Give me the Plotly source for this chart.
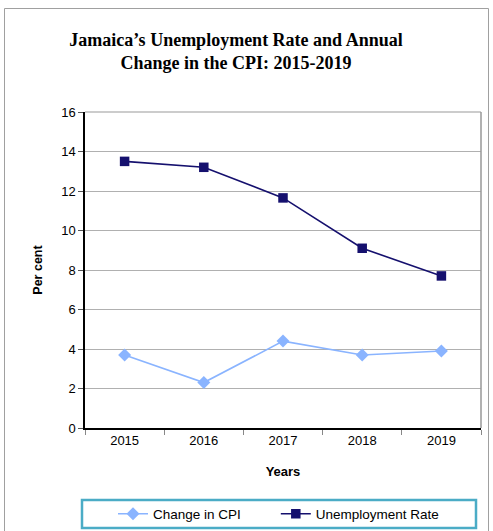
import plotly.graph_objects as go

years = ["2015", "2016", "2017", "2018", "2019"]
cpi_change = [3.7, 2.3, 4.4, 3.7, 3.9]
unemployment = [13.5, 13.2, 11.65, 9.1, 7.7]
y_ticks = [0, 2, 4, 6, 8, 10, 12, 14, 16]

W, H = 493, 531
L, R, T, B = 85, 12, 112, 103
pw, ph = W - L - R, H - T - B

def px_x(x):
    return (x - L) / pw

def px_y(y):
    return (H - B - y) / ph

NB = "\u00a0"

fig = go.Figure()
fig.add_trace(go.Scatter(
    x=years, y=cpi_change, name="Change in CPI" + NB * 8, mode="lines+markers",
    line=dict(color="#8ab4ff", width=1.6),
    marker=dict(symbol="diamond", size=10, color="#8ab4ff"),
))
fig.add_trace(go.Scatter(
    x=years, y=unemployment, name="Unemployment Rate", mode="lines+markers",
    line=dict(color="#15106e", width=1.6),
    marker=dict(symbol="square", size=9.5, color="#15106e"),
))

fig.update_layout(
    width=W, height=H,
    margin=dict(l=L, r=R, t=T, b=B, autoexpand=False),
    paper_bgcolor="white", plot_bgcolor="white",
    font=dict(family="Liberation Sans, Arial, sans-serif", size=13, color="black"),
    title=dict(
        text="<b>Jamaica’s Unemployment Rate and Annual<br>Change in the CPI: 2015-2019</b>",
        font=dict(family="Liberation Serif, Times New Roman, serif", size=18, color="black"),
        x=236 / W, xanchor="center", y=1 - 46 / H, yanchor="top",
    ),
    showlegend=True,
    legend=dict(
        orientation="h", x=px_x(113), xanchor="left", y=px_y(514), yanchor="middle",
        font=dict(size=13.5, color="black"), bgcolor="rgba(0,0,0,0)",
        itemwidth=30,
    ),
    xaxis=dict(
        type="category", range=[-0.5, 4.5], automargin=False,
        showline=True, linecolor="black", linewidth=1.5, mirror=False,
        ticks="outside", tickson="boundaries", ticklen=5, tickcolor="#888",
        showgrid=False, tickfont=dict(size=13),
        title=dict(text="<b>Years</b>", font=dict(size=13), standoff=20),
    ),
    yaxis=dict(
        range=[0, 16], tickvals=y_ticks, automargin=False,
        showline=True, linecolor="black", linewidth=1.5,
        ticks="outside", ticklen=5, tickcolor="#555",
        showgrid=True, gridcolor="#b0b0b0", gridwidth=1,
        zeroline=False, tickfont=dict(size=13),
        title=dict(text="<b>Per cent</b>", font=dict(size=12.5), standoff=16),
    ),
    shapes=[
        dict(type="line", xref="paper", yref="paper", x0=0, x1=1, y0=1, y1=1,
             line=dict(color="#999", width=1)),
        dict(type="line", xref="paper", yref="paper", x0=1, x1=1, y0=0, y1=1,
             line=dict(color="#999", width=1.5)),
        dict(type="rect", xref="paper", yref="paper",
             x0=px_x(4.5), x1=px_x(488.5), y0=px_y(540), y1=px_y(8.5),
             line=dict(color="#a0a0a0", width=1), layer="below"),
        dict(type="rect", xref="paper", yref="paper",
             x0=px_x(82), x1=px_x(476), y0=px_y(528), y1=px_y(500),
             line=dict(color="#4bacc6", width=2.5)),
    ],
)

fig.write_html(
    "out.html",
    config={"displayModeBar": False},
    post_script="document.body.style.margin='0';document.body.style.overflow='hidden';",
)
